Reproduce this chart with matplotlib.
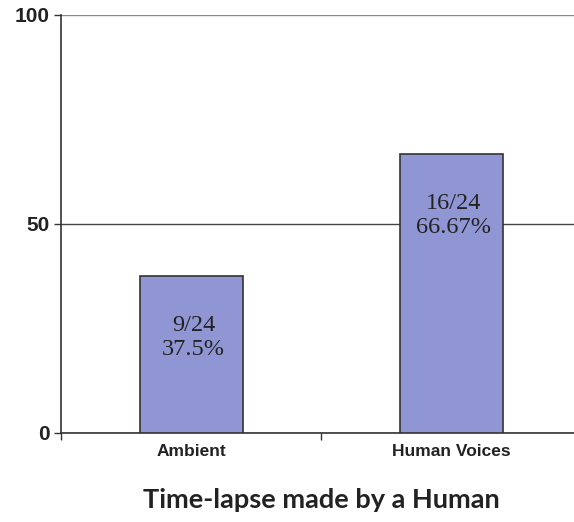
import matplotlib.pyplot as plt
from matplotlib.ticker import FixedLocator

categories = ["Ambient", "Human Voices"]
values = [37.5, 66.67]
bar_labels = ["9/24\n37.5%", "16/24\n66.67%"]
y_ticks = [0, 50, 100]
title = "Time-lapse made by a Human"

BAR_COLOR = "#9096d4"

fig = plt.figure(figsize=(5.74, 5.22), dpi=100)
ax = fig.add_axes([0.1063, 0.1705, 0.906, 0.8008])

x = list(range(len(categories)))
bars = ax.bar(x, values, width=0.396, color=BAR_COLOR, edgecolor="#333333",
              linewidth=1.2, zorder=3)

for bar, label in zip(bars, bar_labels):
    ax.annotate(label, (bar.get_x() + bar.get_width() / 2, bar.get_height()),
                xytext=(2, -44), textcoords="offset points",
                ha="center", va="center", fontsize=17.5,
                family="Liberation Serif", color="#222222",
                linespacing=1.18, zorder=4)

ax.set_xlim(-0.5, len(categories) - 0.5)
ax.set_ylim(0, 100)

ax.set_yticks(y_ticks)
ax.set_yticklabels([str(t) for t in y_ticks], fontsize=15,
                   fontweight="bold", family="Liberation Sans", color="#222222")
ax.yaxis.grid(True, color="#444444", linewidth=1.0, zorder=0)
ax.set_axisbelow(True)
# the top gridline is fainter in the original
ax.get_ygridlines()[-1].set_color("#8a8a8a")

ax.xaxis.set_major_locator(FixedLocator([-0.5, 0.5, 1.5]))
ax.set_xticklabels([])
ax.xaxis.set_minor_locator(FixedLocator(x))
ax.set_xticklabels(categories, minor=True, fontsize=12.5, fontweight="bold",
                   family="Liberation Sans", color="#222222")
ax.tick_params(axis="x", which="minor", length=0, pad=8)
ax.tick_params(axis="x", which="major", length=5, width=1, color="#333333",
               direction="out")
ax.tick_params(axis="y", length=5, width=1, color="#333333", pad=3,
               direction="out")

for side in ("top", "right"):
    ax.spines[side].set_visible(False)
for side in ("left", "bottom"):
    ax.spines[side].set_color("#333333")
    ax.spines[side].set_linewidth(1.2)

fig.text(0.56, 0.042, title, ha="center", va="center", fontsize=19.5,
         fontweight="bold", family="Lato", color="#222222")

fig.savefig("out.png", dpi=100, facecolor="white")
